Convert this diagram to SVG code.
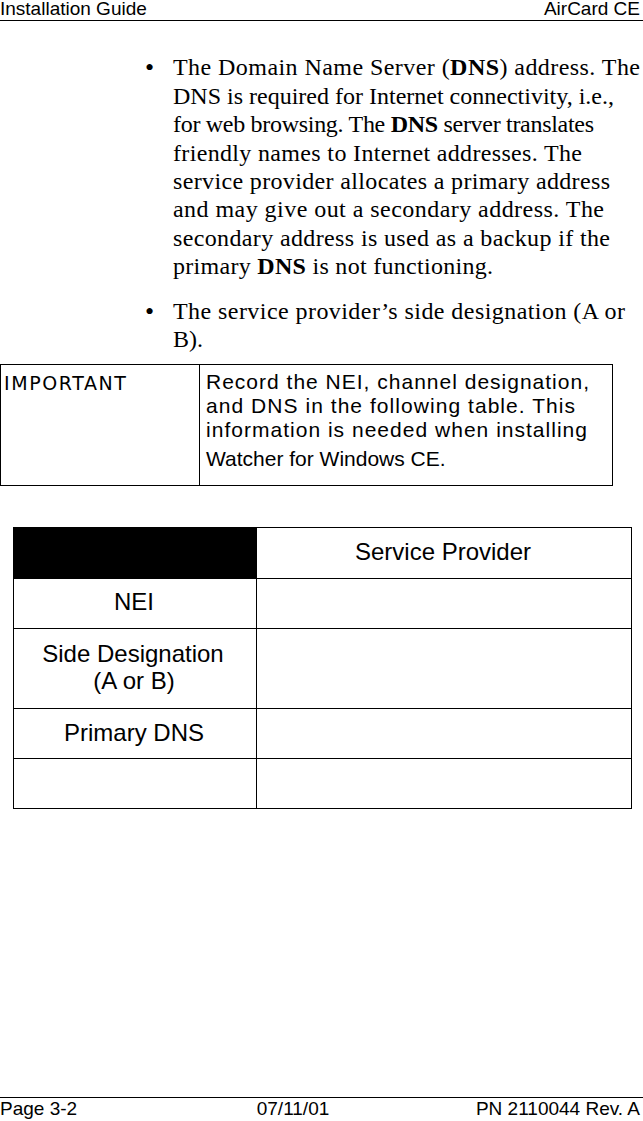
<svg xmlns="http://www.w3.org/2000/svg" width="643" height="1121" viewBox="0 0 643 1121">
<style>
.h{font-family:"Liberation Sans",Arial,sans-serif;font-size:19px}
.t{font-family:"Liberation Serif","Times New Roman",serif;font-size:24px}
.s{font-family:"Liberation Sans",Arial,sans-serif;font-size:21px}
.c{font-family:"Liberation Sans",Arial,sans-serif;font-size:24px;text-anchor:middle}
.l{stroke:#000;stroke-width:1;fill:none}
</style>
<rect width="643" height="1121" fill="#fff"/>
<text class="h" x="0" y="15">Installation Guide</text>
<text class="h" x="640" y="15" text-anchor="end">AirCard CE</text>
<line class="l" x1="0" y1="20.5" x2="643" y2="20.5"/>
<g class="t">
<text x="145" y="76" font-size="26">•</text>
<text x="173" y="75" textLength="467">The Domain Name Server (<tspan font-weight="bold">DNS</tspan>) address. The</text>
<text x="173" y="104" textLength="441">DNS is required for Internet connectivity, i.e.,</text>
<text x="173" y="132" textLength="421">for web browsing. The <tspan font-weight="bold">DNS</tspan> server translates</text>
<text x="173" y="161" textLength="409">friendly names to Internet addresses. The</text>
<text x="173" y="189" textLength="437">service provider allocates a primary address</text>
<text x="173" y="217" textLength="431">and may give out a secondary address. The</text>
<text x="173" y="246" textLength="437">secondary address is used as a backup if the</text>
<text x="173" y="274" textLength="320">primary <tspan font-weight="bold">DNS</tspan> is not functioning.</text>
<text x="145" y="320" font-size="26">•</text>
<text x="173" y="319" textLength="452">The service provider’s side designation (A or</text>
<text x="173" y="347">B).</text>
</g>
<rect class="l" x="0.5" y="364.5" width="612" height="121"/>
<line class="l" x1="199.5" y1="364.5" x2="199.5" y2="485.5"/>
<text x="4" y="390" font-family="DejaVu Sans,sans-serif" font-size="19" letter-spacing="1.6">IMPORTANT</text>
<g class="s">
<text x="206" y="389" textLength="383">Record the NEI, channel designation,</text>
<text x="206" y="413" textLength="369">and DNS in the following table. This</text>
<text x="206" y="437" textLength="381">information is needed when installing</text>
<text x="206" y="466">Watcher for Windows CE.</text>
</g>
<rect x="13" y="527" width="243" height="51" fill="#000"/>
<g class="l">
<rect x="13.5" y="527.5" width="618" height="281"/>
<line x1="256.5" y1="527.5" x2="256.5" y2="808.5"/>
<line x1="13.5" y1="578.5" x2="631.5" y2="578.5"/>
<line x1="13.5" y1="628.5" x2="631.5" y2="628.5"/>
<line x1="13.5" y1="708.5" x2="631.5" y2="708.5"/>
<line x1="13.5" y1="758.5" x2="631.5" y2="758.5"/>
</g>
<text class="c" x="443" y="560">Service Provider</text>
<text class="c" x="134" y="610">NEI</text>
<text class="c" x="133" y="662">Side Designation</text>
<text class="c" x="134" y="689">(A or B)</text>
<text class="c" x="134" y="741">Primary DNS</text>
<line class="l" x1="0" y1="1097.5" x2="643" y2="1097.5"/>
<text class="h" x="0" y="1115">Page 3-2</text>
<text class="h" x="293" y="1115" text-anchor="middle">07/11/01</text>
<text class="h" x="640" y="1115" text-anchor="end">PN 2110044 Rev. A</text>
</svg>
